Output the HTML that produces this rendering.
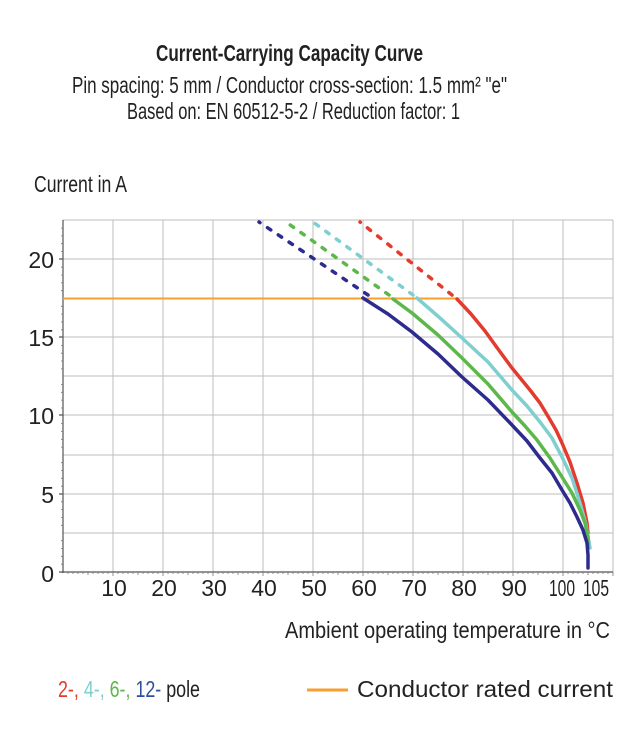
<!DOCTYPE html>
<html><head><meta charset="utf-8"><style>
html,body{margin:0;padding:0;background:#fff;}
svg{display:block;font-family:"Liberation Sans Narrow","Liberation Sans",sans-serif;}
</style></head><body>
<svg width="642" height="753" viewBox="0 0 642 753" xmlns="http://www.w3.org/2000/svg">
<g fill="#222">
<text x="156" y="61" font-size="23" font-weight="bold" textLength="267" lengthAdjust="spacingAndGlyphs">Current-Carrying Capacity Curve</text>
<text x="72" y="93" font-size="23" textLength="435" lengthAdjust="spacingAndGlyphs">Pin spacing: 5 mm / Conductor cross-section: 1.5 mm² "e"</text>
<text x="127" y="119" font-size="23" textLength="333" lengthAdjust="spacingAndGlyphs">Based on: EN 60512-5-2 / Reduction factor: 1</text>
<text x="34" y="192" font-size="23" textLength="93" lengthAdjust="spacingAndGlyphs">Current in A</text>
<text x="285" y="638" font-size="23" textLength="325" lengthAdjust="spacingAndGlyphs">Ambient operating temperature in °C</text>
</g>
<g stroke="#bdbdbd" stroke-width="1">
<line x1="113" y1="220" x2="113" y2="572"/><line x1="163" y1="220" x2="163" y2="572"/>
<line x1="213" y1="220" x2="213" y2="572"/><line x1="263" y1="220" x2="263" y2="572"/>
<line x1="313" y1="220" x2="313" y2="572"/><line x1="363" y1="220" x2="363" y2="572"/>
<line x1="413" y1="220" x2="413" y2="572"/><line x1="463" y1="220" x2="463" y2="572"/>
<line x1="513" y1="220" x2="513" y2="572"/><line x1="563" y1="220" x2="563" y2="572"/>
<line x1="613" y1="220" x2="613" y2="572"/>
<line x1="63" y1="220" x2="613" y2="220"/>
<line x1="63" y1="259" x2="613" y2="259"/><line x1="63" y1="298" x2="613" y2="298"/>
<line x1="63" y1="337" x2="613" y2="337"/><line x1="63" y1="376" x2="613" y2="376"/>
<line x1="63" y1="415" x2="613" y2="415"/><line x1="63" y1="455" x2="613" y2="455"/>
<line x1="63" y1="494" x2="613" y2="494"/><line x1="63" y1="533" x2="613" y2="533"/>
</g>
<g stroke="#555" stroke-width="1.2">
<line x1="63" y1="220" x2="63" y2="573"/><line x1="62" y1="572" x2="613" y2="572"/>
</g>
<path d="M59 572H63M59 259H63M59 337H63M59 415H63M59 494H63" stroke="#555" stroke-width="1.2"/>
<path stroke="#777" stroke-width="0.8" d="M61 564.2H63M61 556.3H63M61 548.5H63M61 540.7H63M61 525.3H63M61 517.4H63M61 509.6H63M61 501.8H63M61 486.2H63M61 478.3H63M61 470.5H63M61 462.7H63M61 447.1H63M61 439.3H63M61 431.4H63M61 423.6H63M61 408H63M61 400.1H63M61 392.3H63M61 384.5H63M61 368.9H63M61 361H63M61 353.2H63M61 345.4H63M61 329.8H63M61 322H63M61 314.1H63M61 306.3H63M61 290.7H63M61 282.8H63M61 275H63M61 267.2H63M61 251.6H63M61 243.7H63M61 235.9H63M61 228.1H63"/>
<g stroke="#777" stroke-width="0.8">
<path d="M68 572v2M73 572v2M78 572v2M83 572v2M88 572v3M93 572v2M98 572v2M103 572v2M108 572v2M113 572v4M118 572v2M123 572v2M128 572v2M133 572v2M138 572v3M143 572v2M148 572v2M153 572v2M158 572v2M163 572v4M168 572v2M173 572v2M178 572v2M183 572v2M188 572v3M193 572v2M198 572v2M203 572v2M208 572v2M213 572v4M218 572v2M223 572v2M228 572v2M233 572v2M238 572v3M243 572v2M248 572v2M253 572v2M258 572v2M263 572v4M268 572v2M273 572v2M278 572v2M283 572v2M288 572v3M293 572v2M298 572v2M303 572v2M308 572v2M313 572v4M318 572v2M323 572v2M328 572v2M333 572v2M338 572v3M343 572v2M348 572v2M353 572v2M358 572v2M363 572v4M368 572v2M373 572v2M378 572v2M383 572v2M388 572v3M393 572v2M398 572v2M403 572v2M408 572v2M413 572v4M418 572v2M423 572v2M428 572v2M433 572v2M438 572v3M443 572v2M448 572v2M453 572v2M458 572v2M463 572v4M468 572v2M473 572v2M478 572v2M483 572v2M488 572v3M493 572v2M498 572v2M503 572v2M508 572v2M513 572v4M518 572v2M523 572v2M528 572v2M533 572v2M538 572v3M543 572v2M548 572v2M553 572v2M558 572v2M563 572v4M568 572v2M573 572v2M578 572v2M583 572v2M588 572v3M593 572v2M598 572v2M603 572v2M608 572v2M613 572v4"/>
</g>
<g fill="#222" font-size="23" text-anchor="end">
<text x="54" y="582">0</text><text x="54" y="503">5</text><text x="54" y="424">10</text>
<text x="54" y="346">15</text><text x="54" y="268">20</text>
</g>
<g fill="#222" font-size="23" text-anchor="middle">
<text x="114" y="596">10</text><text x="164" y="596">20</text><text x="214" y="596">30</text>
<text x="264" y="596">40</text><text x="314" y="596">50</text><text x="364" y="596">60</text>
<text x="414" y="596">70</text><text x="464" y="596">80</text><text x="514" y="596">90</text>
<text x="562" y="596" textLength="26" lengthAdjust="spacingAndGlyphs">100</text>
<text x="596" y="596" textLength="26" lengthAdjust="spacingAndGlyphs">105</text>
</g>
<line x1="63" y1="298.5" x2="457" y2="298.5" stroke="#f7a030" stroke-width="2"/>
<g stroke-width="3.5" stroke-linecap="round" stroke-dasharray="4 9" fill="none">
<line x1="452" y1="295" x2="360" y2="222" stroke="#e33b2e"/>
<line x1="413" y1="295" x2="313" y2="222" stroke="#7fcfcf"/>
<line x1="389" y1="295" x2="286" y2="222" stroke="#5cb84a"/>
<line x1="368" y1="295" x2="259" y2="222" stroke="#2e2b8f"/>
</g>
<g stroke-width="3.5" fill="none" stroke-linecap="round" stroke-linejoin="round">
<polyline points="457,299 471,314 485,331 498,349 512,368 521,379 530,390 540,403 549,418 556,430 562,443 570,462 577,483 583,503 587,523 588,533" stroke="#e33b2e"/>
<polyline points="417,298 440,318 462,338 488,362 512,390 527,406 540,422 552,438 562,457 572,478 580,503 586,525 590,548" stroke="#7fcfcf"/>
<polyline points="393,299 412,313 438,335 462,358 488,384 512,412 525,426 537,440 550,458 562,477 572,493 580,510 585,523 588,537 588,548" stroke="#5cb84a"/>
<polyline points="363,298 388,314 412,332 438,354 462,377 488,400 512,425 527,441 540,458 552,473 562,490 570,503 577,517 583,530 587,543 588,555 588,568" stroke="#2e2b8f"/>
</g>
<g font-size="23">
<text x="58" y="697" textLength="142" lengthAdjust="spacingAndGlyphs"><tspan fill="#e33b2e">2-, </tspan><tspan fill="#7fcfcf">4-, </tspan><tspan fill="#5cb84a">6-, </tspan><tspan fill="#2e4fa0">12-</tspan><tspan fill="#222"> pole</tspan></text>
<line x1="307" y1="690" x2="348" y2="690" stroke="#f7a030" stroke-width="3"/>
<text x="357" y="697" fill="#222" textLength="256" lengthAdjust="spacingAndGlyphs">Conductor rated current</text>
</g>
</svg>
</body></html>
